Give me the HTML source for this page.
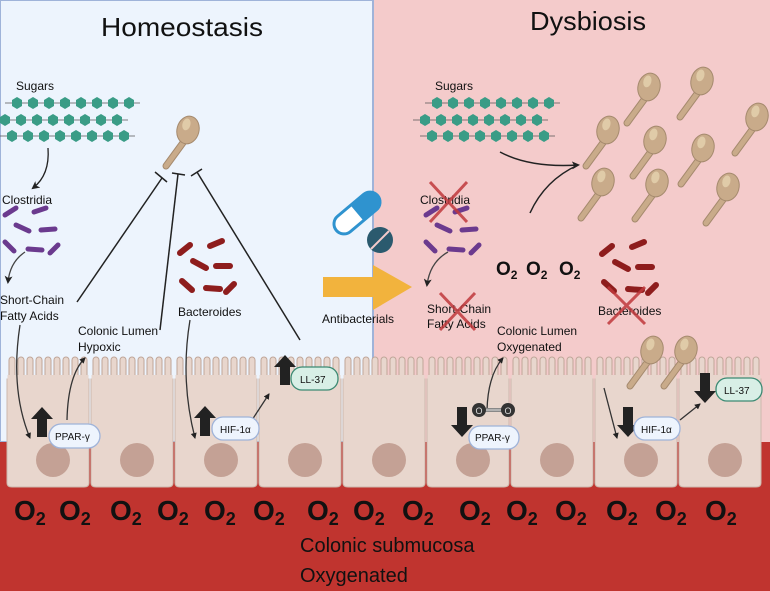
<!DOCTYPE html>
<html><head><meta charset="utf-8"><style>
html,body{margin:0;padding:0;background:#fff}
svg{display:block}
text{font-family:"Liberation Sans",sans-serif;fill:#111}
</style></head><body>
<svg width="770" height="591" viewBox="0 0 770 591" xmlns="http://www.w3.org/2000/svg">
<defs>
<marker id="ah" markerWidth="8" markerHeight="8" refX="6" refY="4" orient="auto" markerUnits="userSpaceOnUse"><path d="M0,0 L8,4 L0,8 L2,4 z" fill="#222"/></marker>
<marker id="ahs" markerWidth="6" markerHeight="6" refX="5" refY="3" orient="auto" markerUnits="userSpaceOnUse"><path d="M0,0 L6,3 L0,6 z" fill="#222"/></marker>
<g id="fun">
<path d="M-3,10 L-22,36" stroke="#a58a6e" stroke-width="7" stroke-linecap="round"/>
<path d="M-3,10 L-22,36" stroke="#c9ab8a" stroke-width="5" stroke-linecap="round"/>
<ellipse cx="0" cy="0" rx="11" ry="14" transform="rotate(15)" fill="#c9ab8a" stroke="#a58a6e" stroke-width="1"/>
<ellipse cx="-3" cy="-5" rx="4" ry="6" transform="rotate(15)" fill="#e0cba8"/>
</g>
<g id="hexrow">
<line x1="0" y1="0" x2="135" y2="0" stroke="#555" stroke-width="0.7"/>
<g fill="#3a9c86">
<polygon points="0,-6 5,-3 5,3 0,6 -5,3 -5,-3" transform="translate(12,0)"/>
<polygon points="0,-6 5,-3 5,3 0,6 -5,3 -5,-3" transform="translate(28,0)"/>
<polygon points="0,-6 5,-3 5,3 0,6 -5,3 -5,-3" transform="translate(44,0)"/>
<polygon points="0,-6 5,-3 5,3 0,6 -5,3 -5,-3" transform="translate(60,0)"/>
<polygon points="0,-6 5,-3 5,3 0,6 -5,3 -5,-3" transform="translate(76,0)"/>
<polygon points="0,-6 5,-3 5,3 0,6 -5,3 -5,-3" transform="translate(92,0)"/>
<polygon points="0,-6 5,-3 5,3 0,6 -5,3 -5,-3" transform="translate(108,0)"/>
<polygon points="0,-6 5,-3 5,3 0,6 -5,3 -5,-3" transform="translate(124,0)"/>
</g>
</g>
<g id="sugar">
<use href="#hexrow" x="5" y="0"/>
<use href="#hexrow" x="-7" y="17"/>
<use href="#hexrow" x="0" y="33"/>
</g>
<g id="clos" stroke="#6b3a8e" stroke-width="5" stroke-linecap="round">
<line x1="5" y1="0" x2="16" y2="-7"/><line x1="34" y1="-3" x2="46" y2="-7"/>
<line x1="16" y1="10" x2="29" y2="16"/><line x1="41" y1="15" x2="55" y2="14"/>
<line x1="5" y1="27" x2="14" y2="36"/><line x1="28" y1="34" x2="42" y2="35"/><line x1="50" y1="38" x2="58" y2="30"/>
</g>
<g id="bact" stroke="#8e1d1d" stroke-width="6" stroke-linecap="round">
<line x1="0" y1="10" x2="10" y2="2"/><line x1="30" y1="3" x2="42" y2="-2"/>
<line x1="13" y1="18" x2="26" y2="25"/><line x1="36" y1="23" x2="50" y2="23"/>
<line x1="2" y1="38" x2="12" y2="47"/><line x1="26" y1="45" x2="40" y2="46"/><line x1="46" y1="49" x2="54" y2="41"/>
</g>
<g id="villus"><rect x="0" y="0" width="6" height="28" rx="3" fill="#e8d6cd" stroke="#bfa598" stroke-width="1"/></g>
<g id="cell">
<use href="#villus" x="2" y="0"/><use href="#villus" x="11" y="0"/><use href="#villus" x="20" y="0"/>
<use href="#villus" x="29" y="0"/><use href="#villus" x="38" y="0"/><use href="#villus" x="47" y="0"/>
<use href="#villus" x="56" y="0"/><use href="#villus" x="65" y="0"/><use href="#villus" x="74" y="0"/>
<path d="M0,22 L82,22 L82,126 Q82,130 77,130 L5,130 Q0,130 0,126 Z" fill="#e8d6cd" stroke="#cdb8ad" stroke-width="1"/>
<rect x="0.5" y="18" width="81" height="8" fill="#e8d6cd"/>
<ellipse cx="46" cy="103" rx="17" ry="17" fill="#c4a195"/>
</g>
<g id="up"><path d="M-5,30 V12 H-11 L0,0 L11,12 H5 V30 Z" fill="#222"/></g>
<g id="dn"><path d="M-5,0 V18 H-11 L0,30 L11,18 H5 V0 Z" fill="#222"/></g>
</defs>

<rect x="0" y="0" width="373" height="442" fill="#edf4fd" stroke="#9fb3d9" stroke-width="2"/>
<rect x="374" y="0" width="396" height="442" fill="#f4cbcb"/>
<rect x="0" y="442" width="770" height="149" fill="#c0342f"/>

<text x="101" y="36" font-size="26" textLength="162" lengthAdjust="spacingAndGlyphs">Homeostasis</text>
<text x="530" y="30" font-size="26" textLength="116" lengthAdjust="spacingAndGlyphs">Dysbiosis</text>

<text x="16" y="90" font-size="12">Sugars</text>
<use href="#sugar" x="0" y="103"/>
<path d="M48,148 Q50,175 33,188" fill="none" stroke="#222" stroke-width="1.3" marker-end="url(#ah)"/>
<text x="2" y="204" font-size="12">Clostridia</text>
<use href="#clos" x="0" y="215"/>
<path d="M25,252 Q10,262 8,282" fill="none" stroke="#444" stroke-width="1.3" marker-end="url(#ah)"/>
<text x="0" y="304" font-size="12">Short-Chain</text>
<text x="0" y="320" font-size="12">Fatty Acids</text>
<use href="#fun" x="188" y="130"/>
<g stroke="#222" stroke-width="1.5">
<line x1="77" y1="302" x2="162" y2="178"/><line x1="155" y1="172" x2="167" y2="182"/>
<line x1="160" y1="330" x2="178" y2="174"/><line x1="172" y1="173" x2="185" y2="175"/>
<line x1="300" y1="340" x2="197" y2="172"/><line x1="191" y1="176" x2="202" y2="169"/>
</g>
<use href="#bact" x="180" y="243"/>
<text x="178" y="316" font-size="12">Bacteroides</text>
<text x="78" y="335" font-size="12">Colonic Lumen</text>
<text x="78" y="351" font-size="12">Hypoxic</text>

<g transform="translate(357,213) rotate(-40)">
<rect x="-27" y="-10" width="54" height="20" rx="10" fill="#fff" stroke="#2f93cf" stroke-width="3"/>
<path d="M0,-10 H17 A10,10 0 0 1 17,10 H0 Z" fill="#2f93cf"/>
</g>
<circle cx="380" cy="240" r="13" fill="#2b5a6e"/>
<line x1="371" y1="249" x2="389" y2="231" stroke="#f4cbcb" stroke-width="2"/>
<path d="M323,277 H373 V265 L412,287 L373,310 V297 H323 Z" fill="#f2b33d"/>
<text x="322" y="323" font-size="12">Antibacterials</text>

<text x="435" y="90" font-size="12">Sugars</text>
<use href="#sugar" x="420" y="103"/>
<path d="M500,152 Q530,168 578,165" fill="none" stroke="#222" stroke-width="1.5" marker-end="url(#ah)"/>
<path d="M530,213 Q545,180 578,165" fill="none" stroke="#222" stroke-width="1.5"/>
<use href="#fun" x="649" y="87"/><use href="#fun" x="702" y="81"/><use href="#fun" x="757" y="117"/>
<use href="#fun" x="608" y="130"/><use href="#fun" x="655" y="140"/><use href="#fun" x="703" y="148"/>
<use href="#fun" x="603" y="182"/><use href="#fun" x="657" y="183"/><use href="#fun" x="728" y="187"/>
<text x="420" y="204" font-size="12">Clostridia</text>
<use href="#clos" x="421" y="215"/>
<g stroke="#c0393c" stroke-width="3" opacity="0.85"><line x1="430" y1="182" x2="467" y2="222"/><line x1="467" y1="182" x2="430" y2="222"/></g>
<path d="M448,252 Q430,262 427,285" fill="none" stroke="#444" stroke-width="1.3" marker-end="url(#ah)"/>
<text x="427" y="313" font-size="12">Short-Chain</text>
<text x="427" y="328" font-size="12">Fatty Acids</text>
<g stroke="#c0393c" stroke-width="3" opacity="0.85"><line x1="440" y1="293" x2="475" y2="330"/><line x1="475" y1="293" x2="440" y2="330"/></g>
<text x="496" y="275" font-size="19" font-weight="bold">O<tspan font-size="12" dy="4">2</tspan></text>
<text x="526" y="275" font-size="19" font-weight="bold">O<tspan font-size="12" dy="4">2</tspan></text>
<text x="559" y="275" font-size="19" font-weight="bold">O<tspan font-size="12" dy="4">2</tspan></text>
<use href="#bact" x="602" y="244"/>
<text x="598" y="315" font-size="12">Bacteroides</text>
<g stroke="#c0393c" stroke-width="3" opacity="0.85"><line x1="608" y1="287" x2="645" y2="324"/><line x1="645" y1="287" x2="608" y2="324"/></g>
<text x="497" y="335" font-size="12">Colonic Lumen</text>
<text x="497" y="351" font-size="12">Oxygenated</text>

<use href="#cell" x="7" y="357"/><use href="#cell" x="91" y="357"/><use href="#cell" x="175" y="357"/>
<use href="#cell" x="259" y="357"/><use href="#cell" x="343" y="357"/><use href="#cell" x="427" y="357"/>
<use href="#cell" x="511" y="357"/><use href="#cell" x="595" y="357"/><use href="#cell" x="679" y="357"/>
<use href="#fun" x="652" y="350"/><use href="#fun" x="686" y="350"/>

<path d="M20,325 Q10,390 30,438" fill="none" stroke="#333" stroke-width="1.3" marker-end="url(#ahs)"/>
<path d="M67,420 Q68,375 85,358" fill="none" stroke="#333" stroke-width="1.3" marker-end="url(#ahs)"/>
<path d="M190,320 Q180,380 195,438" fill="none" stroke="#333" stroke-width="1.3" marker-end="url(#ahs)"/>
<line x1="252" y1="420" x2="269" y2="394" stroke="#333" stroke-width="1.3" marker-end="url(#ahs)"/>
<path d="M487,410 Q488,375 503,358" fill="none" stroke="#333" stroke-width="1.3" marker-end="url(#ahs)"/>
<line x1="604" y1="388" x2="617" y2="438" stroke="#333" stroke-width="1.3" marker-end="url(#ahs)"/>
<line x1="680" y1="420" x2="700" y2="404" stroke="#333" stroke-width="1.3" marker-end="url(#ahs)"/>

<use href="#up" x="42" y="407"/><use href="#up" x="205" y="406"/><use href="#up" x="285" y="355"/>
<use href="#dn" x="462" y="407"/><use href="#dn" x="628" y="407"/><use href="#dn" x="705" y="373"/>

<g font-size="10">
<rect x="49" y="424" width="51" height="24" rx="12" fill="#eef4fd" stroke="#9fb3d9" stroke-width="1.3"/><text x="55" y="440">PPAR-γ</text>
<rect x="212" y="417" width="47" height="23" rx="11" fill="#eef4fd" stroke="#9fb3d9" stroke-width="1.3"/><text x="220" y="433">HIF-1α</text>
<rect x="291" y="367" width="47" height="23" rx="11" fill="#d8efe6" stroke="#3c8a73" stroke-width="1.3"/><text x="300" y="383">LL-37</text>
<rect x="469" y="426" width="50" height="23" rx="11" fill="#eef4fd" stroke="#9fb3d9" stroke-width="1.3"/><text x="475" y="441">PPAR-γ</text>
<rect x="634" y="417" width="46" height="23" rx="11" fill="#eef4fd" stroke="#9fb3d9" stroke-width="1.3"/><text x="641" y="433">HIF-1α</text>
<rect x="716" y="378" width="46" height="23" rx="11" fill="#d8efe6" stroke="#3c8a73" stroke-width="1.3"/><text x="724" y="394">LL-37</text>
</g>
<line x1="479" y1="410" x2="508" y2="410" stroke="#888" stroke-width="4"/>
<line x1="479" y1="410" x2="508" y2="410" stroke="#ddd" stroke-width="1"/>
<circle cx="479" cy="410" r="7" fill="#333"/><circle cx="508" cy="410" r="7" fill="#333"/>
<text x="475.5" y="414" font-size="9" style="fill:#ddd">O</text><text x="504.5" y="414" font-size="9" style="fill:#ddd">O</text>

<g font-size="28" font-weight="bold">
<text x="14" y="520">O<tspan font-size="18" dy="5">2</tspan></text>
<text x="59" y="520">O<tspan font-size="18" dy="5">2</tspan></text>
<text x="110" y="520">O<tspan font-size="18" dy="5">2</tspan></text>
<text x="157" y="520">O<tspan font-size="18" dy="5">2</tspan></text>
<text x="204" y="520">O<tspan font-size="18" dy="5">2</tspan></text>
<text x="253" y="520">O<tspan font-size="18" dy="5">2</tspan></text>
<text x="307" y="520">O<tspan font-size="18" dy="5">2</tspan></text>
<text x="353" y="520">O<tspan font-size="18" dy="5">2</tspan></text>
<text x="402" y="520">O<tspan font-size="18" dy="5">2</tspan></text>
<text x="459" y="520">O<tspan font-size="18" dy="5">2</tspan></text>
<text x="506" y="520">O<tspan font-size="18" dy="5">2</tspan></text>
<text x="555" y="520">O<tspan font-size="18" dy="5">2</tspan></text>
<text x="606" y="520">O<tspan font-size="18" dy="5">2</tspan></text>
<text x="655" y="520">O<tspan font-size="18" dy="5">2</tspan></text>
<text x="705" y="520">O<tspan font-size="18" dy="5">2</tspan></text>
</g>
<text x="300" y="552" font-size="20">Colonic submucosa</text>
<text x="300" y="582" font-size="20">Oxygenated</text>
</svg>
</body></html>
